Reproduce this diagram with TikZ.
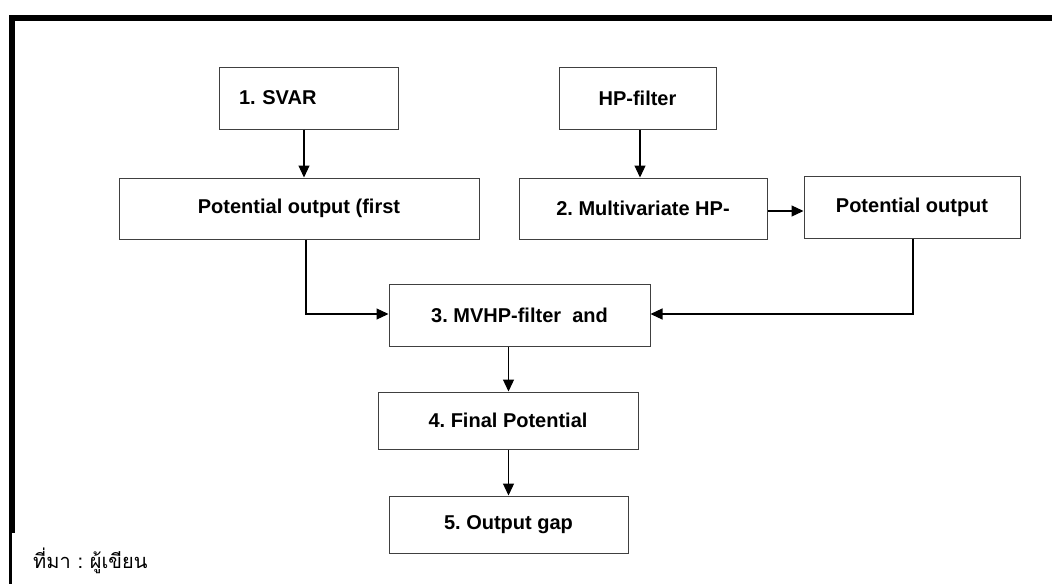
\documentclass[tikz,border=0pt]{standalone}
\usepackage{fontspec}
\setmainfont{Liberation Sans}
\newfontfamily\thaifont[Script=Thai]{Loma}
\usetikzlibrary{arrows.meta}
\frenchspacing
\begin{document}
\begin{tikzpicture}[x=1pt,y=-1pt,
  box/.style={draw=black!75,line width=1pt,rectangle,inner sep=0pt,
    font=\fontsize{20}{24}\selectfont\bfseries},
  arr/.style={draw=black,line width=1.2pt,-{Triangle[length=12pt,width=11pt]}},
  ln/.style={draw=black!80,line width=1.2pt}]
\useasboundingbox (0,0) rectangle (1052,584);
\fill[white] (0,0) rectangle (1052,584);
% frame
\draw[line width=6pt] (12,533) -- (12,18) -- (1052,18);
\draw[line width=3pt] (10.5,530) -- (10.5,584);
% nodes
\node[box,minimum width=179pt,minimum height=62pt,text width=139pt,align=left,inner xsep=20pt] (svar) at (308.5,98) {1. SVAR};
\node[box,minimum width=360pt,minimum height=61pt] (pof) at (299,208.5) {Potential output (first};
\node[box,minimum width=157pt,minimum height=62pt] (hp) at (637.5,98) {HP-filter};
\node[box,minimum width=248pt,minimum height=61pt] (mv) at (643,208.5) {2. Multivariate HP-};
\node[box,minimum width=216pt,minimum height=62pt] (po) at (912,207) {Potential output};
\node[box,minimum width=261pt,minimum height=62pt] (b3) at (519.5,315) {3. MVHP-filter \ and};
\node[box,minimum width=260pt,minimum height=57pt] (b4) at (508,420.5) {4. Final Potential};
\node[box,minimum width=239pt,minimum height=57pt] (b5) at (508.5,524.5) {5. Output gap};
\node[anchor=base west,inner sep=0pt,font=\thaifont\fontsize{20}{24}\selectfont] (src) at (33,568) {ที่มา : ผู้เขียน};
% connectors
\draw[arr] ([xshift=-4.5pt]svar.south) -- ([xshift=-4.5pt]svar.south |- pof.north);
\draw[arr] ([xshift=2.5pt]hp.south) -- ([xshift=2.5pt]hp.south |- mv.north);
\draw[arr] ([yshift=-2.5pt]mv.east) -- ([yshift=-2.5pt]mv.east -| po.west);
\draw[arr] ([xshift=7pt]pof.south) |- ([yshift=1pt]b3.west);
\draw[arr] ([xshift=1pt]po.south) |- ([yshift=1pt]b3.east);
\draw[arr] (b3.south -| b5.north) -- (b4.north -| b5.north);
\draw[arr] (b4.south -| b5.north) -- (b5.north);
\end{tikzpicture}
\end{document}
